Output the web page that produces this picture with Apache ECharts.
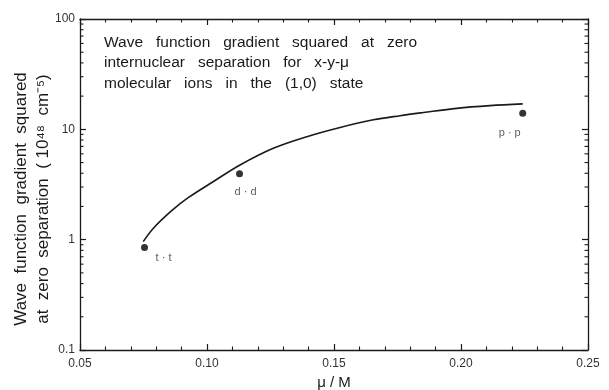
<!DOCTYPE html>
<html>
<head>
<meta charset="utf-8">
<script src="https://cdn.jsdelivr.net/npm/echarts@6/dist/echarts.min.js"></script>
<style>
  html, body { margin: 0; padding: 0; background: #fff; }
  #chart { width: 609px; height: 390px; }
</style>
</head>
<body>
<div id="chart"></div>
<script>
// Calculated |grad psi(0)|^2 curve versus mu/M
const curveMu = [0.0749, 0.0789, 0.0861, 0.0926, 0.1024, 0.1130, 0.1261, 0.1393,
                 0.1524, 0.1655, 0.1760, 0.1852, 0.1983, 0.2114, 0.2243];
const curveGrad = [0.96, 1.27, 1.83, 2.40, 3.35, 4.75, 6.73, 8.58,
                   10.4, 12.2, 13.3, 14.2, 15.5, 16.4, 17.0];

// Individual molecular ions
const ionNames = ['t · t', 'd · d', 'p · p'];
const ionMu = [0.0754, 0.1128, 0.2243];
const ionGrad = [0.85, 3.96, 14.0];

// Axis ticks
const xTicks = [0.05, 0.10, 0.15, 0.20, 0.25];
const yTicks = [0.1, 1, 10, 100];
const yMinorTicks = [0.2, 0.3, 0.4, 0.5, 0.6, 0.7, 0.8, 0.9,
                     2, 3, 4, 5, 6, 7, 8, 9,
                     20, 30, 40, 50, 60, 70, 80, 90];

const labelOffsets = [[19, 11], [6, 18], [-13, 20]];

const ink = '#1a1a1a';
const font = '"Liberation Sans", Arial, sans-serif';

const chart = echarts.init(document.getElementById('chart'), null, { renderer: 'canvas' });

const xCommon = {
  type: 'value',
  min: xTicks[0],
  max: xTicks[xTicks.length - 1],
  interval: 0.05,
  splitLine: { show: false },
  axisLine: { show: true, lineStyle: { color: ink, width: 1.3 } },
  axisTick: { show: true, inside: true, length: 6, lineStyle: { color: ink, width: 1.2 } },
  minorTick: { show: true, splitNumber: 5, length: 3.5, lineStyle: { color: ink, width: 1.1 } }
};

const yCommon = {
  type: 'log',
  logBase: 10,
  min: yTicks[0],
  max: yTicks[yTicks.length - 1],
  splitLine: { show: false },
  axisLine: { show: true, lineStyle: { color: ink, width: 1.3 } },
  axisTick: { show: true, inside: true, length: 6, lineStyle: { color: ink, width: 1.2 } },
  minorTick: { show: false }
};

chart.setOption({
  animation: false,
  backgroundColor: '#fff',
  grid: { left: 80, right: 21, top: 19, bottom: 40, containLabel: false, outerBoundsMode: 'none' },
  xAxis: [
    Object.assign({}, xCommon, {
      position: 'bottom',
      name: 'μ / M',
      nameLocation: 'middle',
      nameGap: 22,
      nameTextStyle: { color: ink, fontSize: 15, fontFamily: font },
      axisLabel: {
        color: '#333', fontSize: 12, fontFamily: font, margin: 8,
        formatter: v => v.toFixed(2)
      }
    }),
    Object.assign({}, xCommon, { position: 'top', axisLabel: { show: false } })
  ],
  yAxis: [
    Object.assign({}, yCommon, {
      position: 'left',
      axisLabel: {
        color: '#333', fontSize: 12, fontFamily: font, margin: 5,
        formatter: v => String(+v.toPrecision(3))
      }
    }),
    Object.assign({}, yCommon, { position: 'right', axisLabel: { show: false } })
  ],
  graphic: [
    {
      type: 'text',
      left: 104,
      top: 32,
      style: {
        text: 'Wave   function   gradient   squared   at   zero\ninternuclear   separation   for   x-y-μ\nmolecular   ions   in   the   (1,0)   state',
        font: '15.5px ' + font,
        fill: ink,
        lineHeight: 20.5
      }
    },
    {
      type: 'text',
      x: 32,
      y: 199,
      rotation: Math.PI / 2,
      style: {
        text: 'Wave  function  gradient  squared\nat  zero  separation  ( 10⁴⁸  cm⁻⁵)',
        font: '17px ' + font,
        fill: ink,
        align: 'center',
        verticalAlign: 'middle',
        lineHeight: 22
      }
    }
  ],
  series: [
    {
      type: 'line',
      data: curveMu.map((m, i) => [m, curveGrad[i]]),
      smooth: 0.35,
      showSymbol: false,
      lineStyle: { color: ink, width: 1.6 },
      silent: true,
      z: 3
    },
    {
      type: 'scatter',
      data: ionMu.map((m, i) => ({
        value: [m, ionGrad[i]],
        name: ionNames[i],
        label: { offset: labelOffsets[i] }
      })),
      symbol: 'circle',
      symbolSize: 7,
      itemStyle: { color: '#000' },
      label: {
        show: true,
        position: 'inside',
        formatter: p => p.name,
        color: '#333',
        fontSize: 11,
        fontFamily: font
      },
      silent: true,
      z: 4
    },
    {
      // logarithmic minor ticks on both vertical axes
      type: 'custom',
      silent: true,
      data: yMinorTicks.map(v => [v]),
      encode: { y: 0 },
      clip: false,
      renderItem: (params, api) => {
        const v = api.value(0);
        const a = api.coord([xTicks[0], v]);
        const b = api.coord([xTicks[xTicks.length - 1], v]);
        const st = { stroke: ink, lineWidth: 1.1 };
        return {
          type: 'group',
          children: [
            { type: 'line', shape: { x1: a[0], y1: a[1], x2: a[0] + 3.5, y2: a[1] }, style: st },
            { type: 'line', shape: { x1: b[0] - 3.5, y1: b[1], x2: b[0], y2: b[1] }, style: st }
          ]
        };
      }
    }
  ]
});
</script>
</body>
</html>
